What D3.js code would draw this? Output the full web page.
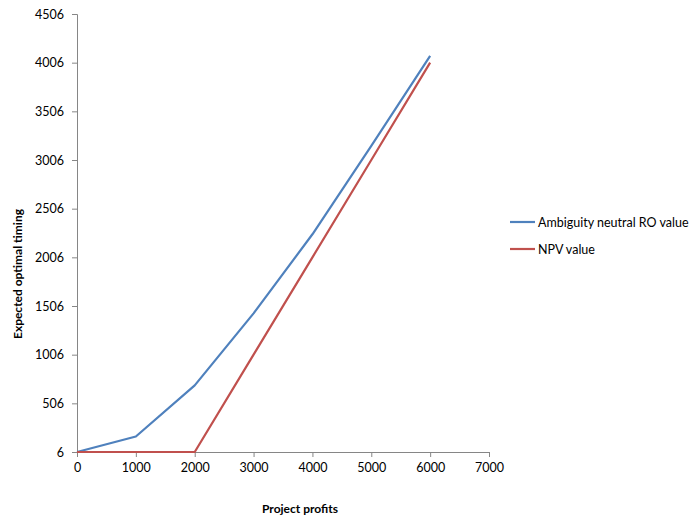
<!DOCTYPE html>
<html>
<head>
<meta charset="utf-8">
<script src="https://cdn.jsdelivr.net/npm/d3@7"></script>
<style>
  html, body { margin: 0; padding: 0; background: #fff; }
  svg { display: block; font-family: Lato, "Open Sans", sans-serif; }
</style>
</head>
<body>
<svg id="chart" width="689" height="518"></svg>
<script>
// Project profits (x) and expected optimal timing for each valuation
const profits = [0, 1000, 2000, 3000, 4000, 5000, 6000];
const roValues = [6, 165, 690, 1430, 2243, 3150, 4075];
const npvValues = [6, 6, 6, 1006, 2006, 3006, 4006];
const xTicks = [0, 1000, 2000, 3000, 4000, 5000, 6000, 7000];
const yTicks = [6, 506, 1006, 1506, 2006, 2506, 3006, 3506, 4006, 4506];
const seriesNames = ["Ambiguity neutral RO value", "NPV value"];
const seriesColors = ["#4F81BD", "#C0504D"];

const svg = d3.select("#chart");
const axisColor = "#868686";

const x = d3.scaleLinear().domain([0, 7000]).range([77, 489]);
const y = d3.scaleLinear().domain([6, 4506]).range([452, 14]);

// Axes
const xAxis = svg.append("g")
  .attr("transform", `translate(0,${y(6)})`)
  .call(d3.axisBottom(x).tickValues(xTicks).tickFormat(d3.format("d")).tickSizeOuter(0).tickSize(5).tickPadding(6));
const yAxis = svg.append("g")
  .attr("transform", `translate(${x(0)},0)`)
  .call(d3.axisLeft(y).tickValues(yTicks).tickFormat(d3.format("d")).tickSizeOuter(0).tickSize(5).tickPadding(8));

[xAxis, yAxis].forEach(g => {
  g.select(".domain").attr("stroke", axisColor).attr("stroke-width", 1);
  g.selectAll(".tick line").attr("stroke", axisColor);
  g.selectAll(".tick text").attr("fill", "#000").attr("font-size", 12.5)
    .attr("font-family", "Lato, 'Open Sans', sans-serif");
});

// Series lines
const line = d3.line().x((d, i) => x(profits[i])).y(d => y(d));
[roValues, npvValues].forEach((vals, k) => {
  svg.append("path")
    .datum(vals)
    .attr("fill", "none")
    .attr("stroke", seriesColors[k])
    .attr("stroke-width", 2.2)
    .attr("stroke-linejoin", "round")
    .attr("d", line);
});

// Axis titles
svg.append("text")
  .attr("x", 300).attr("y", 513)
  .attr("text-anchor", "middle")
  .attr("font-size", 12).attr("font-weight", "bold")
  .text("Project profits");
svg.append("text")
  .attr("transform", "translate(22,274) rotate(-90)")
  .attr("text-anchor", "middle")
  .attr("font-size", 12).attr("font-weight", "bold")
  .text("Expected optimal timing");

// Legend
const legend = svg.append("g");
seriesNames.forEach((name, k) => {
  const ly = 222 + k * 27;
  legend.append("line")
    .attr("x1", 510).attr("x2", 535).attr("y1", ly).attr("y2", ly)
    .attr("stroke", seriesColors[k]).attr("stroke-width", 2.2);
  legend.append("text")
    .attr("x", 538).attr("y", ly + 4.5)
    .attr("font-size", 12.5)
    .text(name);
});
</script>
</body>
</html>
